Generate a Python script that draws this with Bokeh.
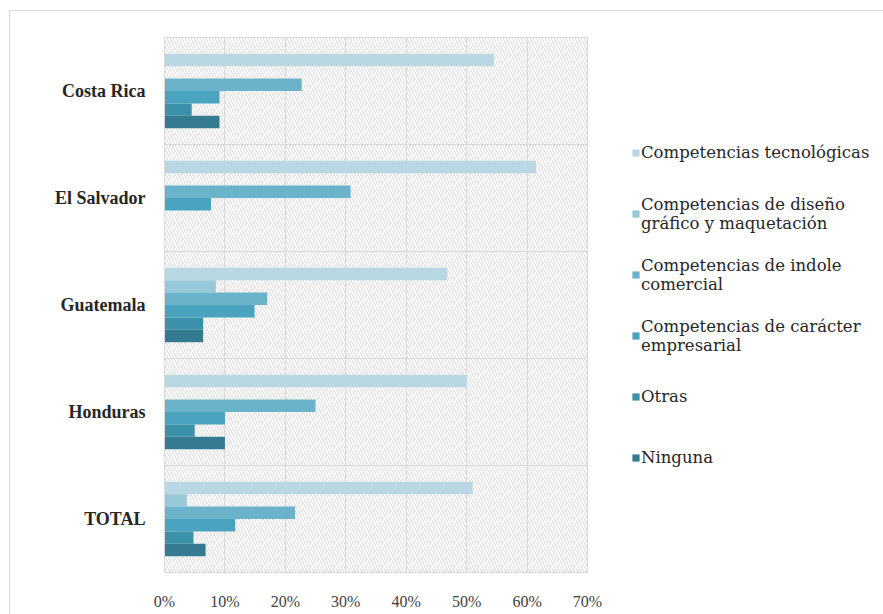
from bokeh.plotting import figure
from bokeh.models import (ColumnDataSource, FactorRange, FixedTicker, PrintfTickFormatter,
                          Legend, LegendItem, BoxAnnotation)
from bokeh.transform import dodge
from bokeh.embed import file_html
from bokeh.resources import INLINE

# ---- data (percent) ----
countries = ["Costa Rica", "El Salvador", "Guatemala", "Honduras", "TOTAL"]
tecnologicas = [54.5, 61.5, 46.8, 50.0, 51.0]
diseno = [0.0, 0.0, 8.5, 0.0, 3.7]
comercial = [22.7, 30.8, 17.0, 25.0, 21.6]
empresarial = [9.1, 7.7, 14.9, 10.0, 11.7]
otras = [4.5, 0.0, 6.4, 5.0, 4.8]
ninguna = [9.1, 0.0, 6.4, 10.0, 6.8]

series_names = [
    "Competencias tecnológicas",
    "Competencias de diseño\ngráfico y maquetación",
    "Competencias de indole\ncomercial",
    "Competencias de carácter\nempresarial",
    "Otras",
    "Ninguna",
]
series_keys = ["tecnologicas", "diseno", "comercial", "empresarial", "otras", "ninguna"]
colors = ["#B9D8E4", "#98C9D8", "#6BB3CA", "#4AA4BF", "#3C91AA", "#347B91"]
x_ticks = [0, 10, 20, 30, 40, 50, 60, 70]

source = ColumnDataSource(dict(country=countries, tecnologicas=tecnologicas, diseno=diseno,
                               comercial=comercial, empresarial=empresarial,
                               otras=otras, ninguna=ninguna))

p = figure(y_range=FactorRange(factors=list(reversed(countries)), range_padding=0),
           x_range=(0, 70), frame_width=423, frame_height=535,
           min_border_left=154, min_border_right=296, min_border_top=26, min_border_bottom=42,
           output_backend="svg", toolbar_location=None, background_fill_color="white",
           border_fill_color="white")
p.styles = {"margin-top": "10px", "margin-left": "9px",
            "border-top": "1px solid #D9D9D9", "border-left": "1px solid #D9D9D9"}

# hatched plot area
p.add_layout(BoxAnnotation(fill_alpha=0, line_alpha=0, hatch_pattern="\\",
                           hatch_color="#D9D9D9", hatch_scale=6, hatch_weight=1,
                           level="underlay"))

bar_h = 0.116
renderers = []
for i, (key, col) in enumerate(zip(series_keys, colors)):
    off = (2.5 - i) * bar_h
    r = p.hbar(y=dodge("country", off, range=p.y_range), right=key, left=0, height=bar_h,
               source=source, fill_color=col, line_color=None)
    renderers.append(r)

# grid / axes
p.xaxis.ticker = FixedTicker(ticks=x_ticks)
p.xaxis.formatter = PrintfTickFormatter(format="%d%%")
p.xgrid.ticker = FixedTicker(ticks=x_ticks)
p.xgrid.grid_line_color = "#D9D9D9"
p.ygrid.ticker = FixedTicker(ticks=[1, 2, 3, 4])
p.ygrid.grid_line_color = "#D9D9D9"
p.outline_line_color = "#D9D9D9"

for ax in (p.xaxis[0], p.yaxis[0]):
    ax.axis_line_color = "#D9D9D9"
    ax.major_tick_line_color = None
    ax.minor_tick_line_color = None
    ax.major_tick_out = 0
    ax.major_label_text_font = "Liberation Serif"
    ax.major_label_text_font_size = "16px"

p.xaxis.major_label_standoff = 20
p.xaxis.major_label_text_color = "#404040"
p.yaxis.major_label_standoff = 19
p.yaxis.major_label_text_font_style = "bold"
p.yaxis.major_label_text_font_size = "18px"
p.yaxis.major_label_text_color = "#262626"

legend = Legend(items=[LegendItem(label=n, renderers=[r]) for n, r in zip(series_names, renderers)],
                location=(44, 88), orientation="vertical", padding=0, margin=0,
                border_line_color=None, background_fill_alpha=0,
                glyph_width=9, glyph_height=9, label_standoff=1, spacing=8,
                label_height=53, label_text_font="DejaVu Serif",
                label_text_font_size="16.5px", label_text_color="#262626")
p.add_layout(legend, "right")

open("out.html", "w").write(file_html(p, INLINE))
